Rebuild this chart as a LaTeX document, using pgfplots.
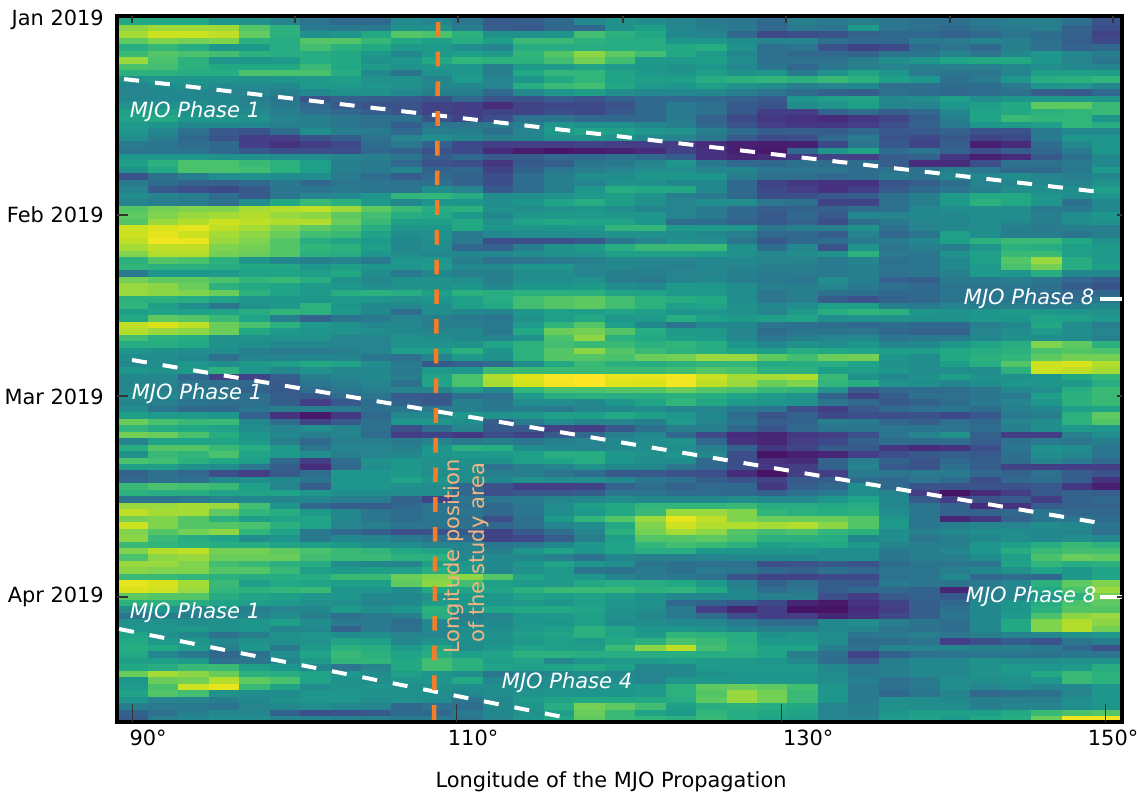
\documentclass[border=0pt]{standalone}
\usepackage{fontspec}
\setmainfont{DejaVu Sans}
\usepackage{pgfplots}
\usepackage{pgfplotstable}
\pgfplotsset{compat=1.18}
\pgfdeclareplotmark{cell}{\pgfpathrectangle{\pgfpoint{-15.4pt}{-3.45pt}}{\pgfpoint{30.8pt}{6.9pt}}\pgfusepathqfill}
\definecolor{orangeline}{HTML}{F47E28}
\definecolor{orangetext}{HTML}{F3B484}
\pgfplotstableread[header=false]{
58 58 58 50 48 42 35 30 30 45 42 36 24 26 30 44 48 46 42 38 36 30 40 38 40 36 34 34 38 40 40 34 22
82 85 85 85 72 62 38 38 38 48 48 40 26 24 30 30 48 54 44 40 38 30 38 36 52 36 34 30 36 38 40 28 20
86 92 92 90 75 62 48 50 58 72 70 62 48 48 50 68 62 58 44 42 30 18 20 22 28 30 30 28 30 36 32 28 16
74 80 78 80 62 60 72 72 65 58 55 60 54 66 66 62 60 60 50 50 46 42 42 34 30 30 38 38 42 40 34 26 18
60 65 60 50 52 60 68 62 58 52 52 46 42 60 60 60 60 60 58 60 48 34 36 22 16 18 32 36 30 40 34 28 30
66 72 70 68 62 60 60 58 52 44 52 54 52 64 72 82 74 68 58 52 44 34 30 30 28 36 36 42 36 44 50 44 40
84 70 62 50 50 52 60 58 48 50 58 64 62 62 68 78 68 52 52 54 46 34 34 34 40 46 50 56 58 58 50 42 36
70 68 62 58 58 58 66 58 52 48 50 50 40 52 52 56 52 50 48 50 44 36 30 36 40 42 40 40 40 44 46 44 42
62 62 60 60 70 70 70 60 44 35 48 50 40 58 64 64 56 52 50 54 48 50 38 48 56 50 38 36 36 42 54 54 54
48 50 50 50 48 50 52 54 48 48 42 52 42 50 58 64 56 54 54 60 62 64 62 66 62 54 50 34 38 50 60 62 64
42 46 48 45 45 44 52 52 50 48 44 44 42 60 66 68 58 52 50 54 48 46 40 42 44 32 34 32 32 38 50 50 44
42 44 44 42 42 40 44 48 48 44 40 40 30 44 50 54 46 44 44 44 40 36 32 28 26 34 32 30 32 34 26 24 30
44 44 44 44 40 36 22 28 26 24 22 30 22 22 26 22 28 30 30 30 28 24 50 54 56 44 46 54 46 50 50 50 50
48 48 46 44 42 38 30 24 22 22 16 14 8 16 18 18 22 30 38 34 24 22 46 48 54 42 42 50 54 58 74 74 66
55 54 48 46 45 40 34 30 26 22 16 14 16 16 20 18 24 30 38 34 24 14 14 28 32 26 30 44 56 58 62 64 66
56 58 50 50 48 42 40 36 34 34 22 16 20 34 36 30 30 30 38 28 18 12 10 8 12 16 26 40 56 66 64 64 50
52 50 44 44 44 40 40 36 34 26 36 36 38 40 50 48 48 44 40 30 22 14 12 12 14 20 28 38 50 52 54 64 60
50 44 34 24 22 32 46 40 38 30 40 40 34 42 52 56 54 50 48 40 32 26 26 26 30 24 24 28 22 22 38 44 44
46 40 30 22 14 14 22 26 34 42 46 44 40 44 48 48 48 44 42 36 24 18 20 30 38 22 18 24 16 18 38 50 50
38 36 32 30 14 10 14 18 32 38 28 18 14 14 14 16 14 14 14 8 4 3 4 18 36 24 16 26 4 8 32 44 50
36 36 36 30 24 20 20 20 30 28 22 18 8 3 1 3 5 8 16 10 4 2 30 50 56 32 36 28 20 26 30 38 50
50 50 50 48 48 46 46 42 40 36 26 30 24 26 30 30 34 30 26 10 6 8 12 16 14 26 28 12 4 8 24 34 44
54 62 70 70 66 62 54 40 38 30 22 20 12 24 26 36 38 42 50 38 30 30 34 32 32 26 8 8 20 34 34 38 44
48 58 70 70 68 62 54 40 38 44 28 30 16 28 36 40 42 46 46 42 44 36 36 36 32 34 34 40 36 30 30 38 52
22 34 40 46 48 46 46 38 32 26 30 28 20 32 40 46 46 50 50 50 40 34 34 30 32 38 34 44 44 46 42 40 44
38 32 28 28 30 38 30 36 36 34 34 28 20 32 40 42 48 48 44 44 30 16 12 10 10 22 26 32 42 42 44 42 48
42 24 20 18 24 36 36 38 36 36 46 42 24 32 40 50 60 58 58 44 30 18 14 10 14 24 30 36 40 46 46 46 54
46 42 40 32 24 36 42 44 50 64 64 60 46 46 48 52 54 48 40 38 30 20 20 24 26 34 40 52 58 58 50 46 50
42 40 38 34 46 58 66 62 52 44 50 50 46 50 56 60 54 48 42 46 46 36 34 16 16 34 40 52 62 58 50 34 44
72 78 80 80 86 88 90 85 74 66 60 62 48 46 48 50 46 42 42 38 30 26 28 28 32 34 44 46 46 46 38 38 44
74 80 84 86 88 84 82 74 68 60 58 52 44 50 52 52 50 50 42 38 30 24 30 24 44 42 44 44 46 46 40 46 50
72 84 88 92 90 88 88 76 66 54 54 58 48 56 58 56 56 50 32 32 28 24 28 20 32 38 42 44 46 44 40 46 48
92 94 96 90 86 80 74 70 60 50 50 58 50 50 50 52 64 64 52 52 50 36 40 40 48 34 42 44 46 40 38 40 40
92 96 92 86 82 76 68 66 56 46 48 38 44 46 46 46 48 48 46 44 40 30 30 26 42 30 36 54 46 40 40 36 40
90 98 97 84 80 72 60 56 52 44 46 38 20 20 20 24 36 42 48 46 36 24 30 32 38 38 44 54 62 66 66 58 48
86 90 90 80 78 72 64 62 54 44 46 30 28 40 48 52 60 66 66 66 48 32 44 22 48 36 40 40 50 62 60 54 52
80 88 88 78 76 72 62 60 50 46 44 44 44 46 48 48 54 54 54 52 48 44 46 48 62 38 36 48 54 66 66 54 52
62 72 70 62 50 44 40 42 38 50 50 40 34 36 38 40 44 42 42 44 44 42 42 38 42 34 36 44 54 72 84 60 52
64 62 62 60 58 58 50 54 50 50 52 44 44 50 50 42 44 42 40 44 42 40 40 38 40 36 36 44 52 70 78 60 54
38 50 50 52 56 56 54 58 46 38 44 40 40 46 46 42 40 40 42 42 40 38 38 38 40 34 36 40 52 50 60 44 44
78 74 74 70 64 66 60 48 44 48 48 46 40 46 46 48 40 38 42 44 40 38 36 46 40 28 26 38 38 40 36 30 26
84 82 76 62 58 56 52 50 46 48 48 50 44 50 50 52 46 44 52 50 46 40 40 42 38 34 30 36 36 36 34 26 22
84 82 80 76 62 56 52 60 62 60 54 62 60 62 62 62 56 56 52 52 46 36 40 34 34 30 30 36 36 38 34 30 30
62 62 60 56 50 50 50 52 50 48 50 54 60 68 72 74 68 62 60 58 46 36 40 26 22 28 30 36 36 36 34 32 36
64 54 46 36 48 52 62 50 44 44 46 54 58 68 72 74 68 62 54 56 48 44 46 54 54 40 38 42 40 40 38 40 44
54 56 54 56 60 64 62 52 44 32 46 44 42 50 54 54 56 54 50 50 48 42 52 60 64 62 50 48 50 52 50 50 48
58 74 72 66 56 40 28 36 38 42 40 38 36 48 54 58 50 52 60 54 52 54 56 46 48 48 48 48 50 50 56 54 50
90 94 90 76 70 62 52 48 44 44 40 40 38 52 64 72 54 44 36 44 44 36 34 32 30 32 30 30 40 44 58 46 40
88 84 82 76 58 52 50 48 46 44 42 44 38 58 76 78 72 60 52 52 42 32 36 36 36 30 28 28 42 46 52 46 42
68 62 60 48 48 48 48 42 42 48 46 44 42 48 70 82 62 58 54 52 44 36 40 42 44 36 38 38 44 48 46 46 40
60 60 58 48 46 44 44 42 42 48 48 48 56 62 68 66 66 62 64 60 50 44 48 46 50 42 44 50 56 60 80 74 62
50 48 46 46 40 38 38 40 42 54 54 62 50 62 72 82 72 66 62 60 56 54 60 58 56 54 54 58 60 62 70 72 70
46 46 44 34 42 42 44 42 36 34 42 52 48 62 72 72 70 76 78 84 84 74 68 76 78 50 46 58 62 64 74 78 78
44 46 50 46 52 54 58 56 46 38 24 28 32 46 58 66 62 60 62 64 64 58 60 60 56 48 46 54 60 72 92 94 88
50 48 52 62 50 44 48 44 44 38 52 50 66 66 66 66 66 66 68 72 70 62 62 54 54 50 46 46 46 62 92 90 86
44 44 30 14 16 26 40 42 44 40 56 70 88 95 99 100 96 96 98 92 86 86 88 66 48 44 48 54 48 48 50 58 64
42 42 36 34 30 24 36 40 42 34 56 70 86 93 98 100 95 94 98 90 84 76 80 64 60 48 46 42 46 50 50 52 60
44 40 36 34 28 24 32 36 40 42 42 52 44 64 70 70 72 72 76 72 70 66 64 48 26 30 32 32 36 44 46 60 66
46 44 40 38 34 26 24 32 36 24 24 32 34 52 60 62 60 60 62 60 56 52 48 28 16 26 34 34 36 38 54 62 66
42 40 36 34 34 26 14 24 32 28 24 40 36 46 46 44 50 56 64 58 52 50 48 36 30 24 28 32 38 42 50 62 66
46 36 30 30 36 40 40 38 34 36 38 40 38 40 38 42 44 46 42 42 38 36 20 14 24 30 34 36 32 40 44 54 56
54 52 52 50 28 10 2 12 30 44 44 50 48 50 54 54 58 54 50 44 32 22 28 18 20 20 22 18 24 38 40 62 74
76 70 66 66 44 32 16 24 34 50 50 46 26 38 46 42 42 40 52 42 36 26 28 40 38 30 26 34 30 42 46 62 72
64 60 58 56 46 42 46 42 34 20 32 42 24 24 16 14 24 34 40 40 30 22 30 36 36 36 36 36 32 40 46 52 50
78 76 70 60 50 44 40 42 32 14 16 12 20 16 24 30 40 44 30 18 8 6 12 14 20 36 42 48 28 14 14 40 46
42 56 56 56 52 40 30 40 40 38 42 38 40 36 40 42 44 46 48 30 10 6 14 18 28 32 32 32 26 34 38 36 40
60 72 72 66 60 52 36 42 42 40 50 62 60 46 44 42 44 46 46 40 28 12 16 24 24 12 8 10 20 36 48 46 36
48 66 64 70 56 52 46 40 42 44 50 52 52 54 60 60 50 48 50 44 20 0 4 6 14 20 24 26 24 34 46 44 36
70 68 62 58 54 30 14 32 48 50 48 48 48 54 56 60 50 46 46 30 20 10 8 28 40 28 22 30 26 32 42 38 30
54 54 48 46 36 26 8 30 46 50 48 46 34 40 42 48 44 44 36 30 20 12 14 28 42 24 22 34 26 16 14 14 14
28 34 30 20 14 24 32 50 50 52 46 46 40 40 36 32 24 24 22 20 8 0 14 14 38 36 38 38 30 28 34 26 22
30 34 34 44 46 44 36 50 50 56 50 46 44 48 46 46 44 36 34 26 22 16 24 26 32 30 36 32 20 30 32 26 10
66 70 68 66 54 42 26 50 50 48 46 30 22 14 14 16 28 32 28 30 30 12 26 30 46 30 22 22 22 22 24 12 4
62 60 60 56 56 56 50 46 46 46 46 30 20 24 24 26 36 36 32 32 30 28 34 38 46 42 14 0 8 14 24 28 26
36 36 38 42 44 42 44 40 40 28 16 36 36 38 42 44 46 44 44 44 46 44 44 50 56 44 24 14 22 24 14 28 30
84 84 86 84 68 50 30 26 26 30 36 34 30 36 46 54 58 64 64 64 66 60 60 58 60 44 36 28 8 10 26 28 28
90 86 86 74 64 60 52 44 36 32 36 36 30 36 46 52 58 66 84 84 80 64 62 60 62 46 36 28 28 30 36 30 30
78 80 72 62 54 56 56 44 36 32 36 34 20 34 52 64 72 84 96 90 80 76 76 76 72 50 36 6 12 28 36 36 32
92 80 72 72 70 62 56 42 40 36 36 34 30 34 42 46 58 80 92 88 88 86 88 82 72 52 36 40 42 42 46 44 36
80 72 78 82 64 56 38 30 26 20 22 24 16 24 32 42 62 78 86 82 72 68 70 64 62 46 40 44 46 46 44 42 34
82 66 60 56 46 50 38 44 42 38 34 30 16 18 26 40 54 72 72 74 70 62 62 60 44 46 36 40 44 46 44 46 44
66 64 62 60 60 56 54 52 46 46 42 42 36 38 44 50 56 64 68 66 62 54 56 58 52 42 40 40 50 54 60 66 62
80 88 90 78 78 74 70 66 64 58 56 42 40 50 56 50 56 60 60 52 50 50 50 46 46 38 40 44 50 60 66 68 68
70 82 84 76 76 76 68 66 66 62 62 44 44 44 40 34 44 40 40 42 44 44 44 46 46 36 40 40 46 54 70 76 74
84 84 80 68 66 62 60 46 44 42 54 50 44 50 56 50 46 36 34 34 34 20 22 24 22 32 36 36 36 56 64 60 62
82 80 80 72 72 66 54 52 54 54 60 52 44 48 52 36 34 38 34 38 36 30 28 34 30 36 36 40 44 48 56 50 56
66 66 64 62 60 60 60 66 66 76 80 82 72 56 52 50 42 38 38 34 22 16 16 18 18 34 36 44 30 32 30 52 56
96 94 86 66 54 58 56 54 54 74 82 68 54 52 52 58 60 60 58 52 40 28 34 26 24 38 36 36 38 44 62 74 80
94 92 84 64 62 64 66 50 50 46 58 56 56 62 66 66 66 62 64 58 44 32 36 26 30 30 28 6 40 42 58 70 84
74 72 72 60 56 54 50 50 44 44 48 52 50 56 54 56 52 48 44 44 44 40 40 20 14 24 28 24 40 42 50 62 78
62 62 60 56 54 52 48 46 42 44 52 50 50 52 50 54 50 48 30 28 24 18 6 2 10 16 26 30 44 50 60 70 74
46 50 44 48 40 42 44 52 46 50 62 48 56 58 58 56 48 46 38 14 6 14 0 0 8 14 26 34 44 50 62 72 72
36 40 40 42 42 46 40 34 38 40 60 40 42 50 52 54 48 44 38 32 20 14 14 6 10 18 26 36 44 52 70 82 84
48 48 46 48 50 54 46 38 38 32 44 42 44 50 50 54 46 46 44 44 38 32 30 44 46 40 36 32 44 58 80 88 82
50 50 52 48 50 42 44 28 38 34 44 46 46 52 54 62 56 50 50 48 44 40 40 44 42 36 34 32 44 58 80 88 78
56 48 44 34 40 48 50 46 46 42 42 46 48 54 56 62 56 52 64 62 60 48 50 46 36 38 40 36 40 42 44 48 50
58 52 50 44 48 46 48 56 54 44 48 46 48 52 54 52 58 62 70 66 60 52 52 46 32 32 36 14 20 26 22 36 40
60 58 52 40 50 38 52 62 60 52 58 46 50 56 54 54 66 82 90 68 62 56 56 40 34 42 42 42 40 40 38 30 22
58 44 38 30 34 46 56 66 62 56 60 54 56 62 62 60 60 60 60 60 60 56 40 34 16 28 34 36 36 36 36 38 36
54 54 52 34 36 42 52 64 64 58 68 62 54 56 44 50 52 52 54 52 52 50 44 32 24 40 44 44 48 46 46 48 48
58 60 66 66 54 50 44 36 42 58 68 62 56 54 56 58 54 44 44 52 52 52 52 44 38 40 44 44 48 52 50 52 60
76 86 82 76 62 60 56 50 46 54 50 46 36 42 44 46 44 42 44 48 50 50 50 46 38 40 44 44 48 50 58 66 62
50 76 78 88 74 70 56 48 46 50 50 58 44 44 46 46 46 42 50 50 50 50 50 46 40 34 38 46 46 48 50 66 62
52 70 92 96 66 56 46 48 50 46 48 46 46 46 48 48 50 52 62 74 76 74 68 50 38 34 38 46 42 46 42 44 50
56 72 68 48 46 46 50 50 48 48 46 44 46 48 50 50 50 52 62 72 84 78 66 50 38 30 36 42 30 32 34 42 50
50 42 42 40 44 48 50 50 46 48 46 36 44 52 56 58 58 58 60 74 84 78 66 50 38 46 46 44 40 40 40 46 50
40 38 38 36 42 44 46 44 42 30 34 32 44 50 60 78 74 68 54 60 62 60 58 42 40 48 46 46 40 42 42 46 50
28 34 40 44 44 28 20 22 24 32 30 38 44 48 54 76 66 56 52 64 60 58 56 42 40 50 54 54 54 58 66 70 72
24 40 44 46 46 42 42 40 40 38 38 36 42 50 58 74 66 64 62 66 60 56 54 42 42 52 56 52 58 60 76 98 98
}\heatdata
\begin{document}
\begin{tikzpicture}
\path[use as bounding box] (0,0) rectangle (1137pt,793pt);
\begin{axis}[
  at={(117pt,71pt)}, anchor=south west,
  scale only axis, width=1005pt, height=706pt,
  xmin=89.07, xmax=151.1, ymin=-0.89, ymax=108.4, y dir=reverse,
  colormap name=viridis, point meta min=-5, point meta max=100,
  axis line style={draw=none},
  xtick={90.99,111.05,131.73,150.55}, xticklabels={90°,110°,130°,150°},
  ytick={-0.3,29.9,58.1,89.05}, yticklabels={Jan 2019,Feb 2019,Mar 2019,Apr 2019},
  major tick length=0pt,
  xticklabel style={font=\fontsize{20.9}{24}\selectfont, inner sep=0pt, anchor=center, yshift=-16pt},
  yticklabel style={font=\fontsize{20.9}{24}\selectfont, inner sep=0pt, anchor=east, xshift=-13pt},
  tick style={draw=none},
]
\pgfplotsinvokeforeach{0,...,32}{
  \addplot[scatter, only marks, mark=cell, forget plot,
    scatter/use mapped color={draw=none, fill=mapped color},
    point meta=explicit]
    table[x expr={90.04+1.88*#1}, y expr=\coordindex, meta index=#1] {\heatdata};
}
\end{axis}
\begin{axis}[
  at={(117pt,71pt)}, anchor=south west,
  scale only axis, width=1005pt, height=706pt,
  xmin=89.07, xmax=151.1, ymin=-0.89, ymax=108.4, y dir=reverse,
  axis line style={line width=3.5pt, black},
  xtick=\empty, ytick=\empty,
]
\addplot[white, line width=4pt, dash pattern=on 15pt off 16pt, forget plot] coordinates {(89.51,8.87) (149.75,26.36)};
\addplot[white, line width=4pt, dash pattern=on 15pt off 16pt, forget plot] coordinates {(90,52.36) (149.75,77.6)};
\addplot[white, line width=4pt, dash pattern=on 15pt off 16pt, forget plot] coordinates {(89.2,94.0) (116.54,107.6)};
\addplot[white, line width=4pt, forget plot] coordinates {(149.75,42.9) (151.1,42.9)};
\addplot[white, line width=4pt, forget plot] coordinates {(149.75,89.05) (151.1,89.05)};
\addplot[orangeline, line width=4.5pt, dash pattern=on 14.7pt off 15pt, forget plot] coordinates {(108.89,0.04) (108.64,108.1)};
\end{axis}
\begin{scope}[x=1pt,y=1pt]
\foreach \x in {132,295,458,623,786,950,1113} \draw[black!80, line width=1.2pt] (\x,777) -- (\x,770);
\foreach \x in {132,456,781,1105} \draw[black!80, line width=1pt] (\x,71) -- (\x,89);
\foreach \y in {215,396,597} \draw[black!80, line width=1.2pt] (117,793-\y) -- (128,793-\y);
\foreach \y in {215,396,597} \draw[black!80, line width=1.2pt] (1122,793-\y) -- (1117,793-\y);
\def\mjo{\fontsize{21}{24}\selectfont\itshape}
\node[white,font=\mjo] at (195,793-112) {MJO Phase 1};
\node[white,font=\mjo] at (197,793-394) {MJO Phase 1};
\node[white,font=\mjo] at (195,793-613) {MJO Phase 1};
\node[white,font=\mjo] at (1029,793-299) {MJO Phase 8};
\node[white,font=\mjo] at (1031,793-597) {MJO Phase 8};
\node[white,font=\mjo] at (567,793-683) {MJO Phase 4};
\node[orangetext,rotate=90,anchor=west,inner sep=0pt,font=\fontsize{21}{24}\selectfont] at (454,793-654) {Longitude position};
\node[orangetext,rotate=90,anchor=west,inner sep=0pt,font=\fontsize{21}{24}\selectfont] at (479,793-643) {of the study area};
\node[black,font=\fontsize{20.9}{24}\selectfont] at (611,793-782) {Longitude of the MJO Propagation};
\end{scope}
\end{tikzpicture}
\end{document}
